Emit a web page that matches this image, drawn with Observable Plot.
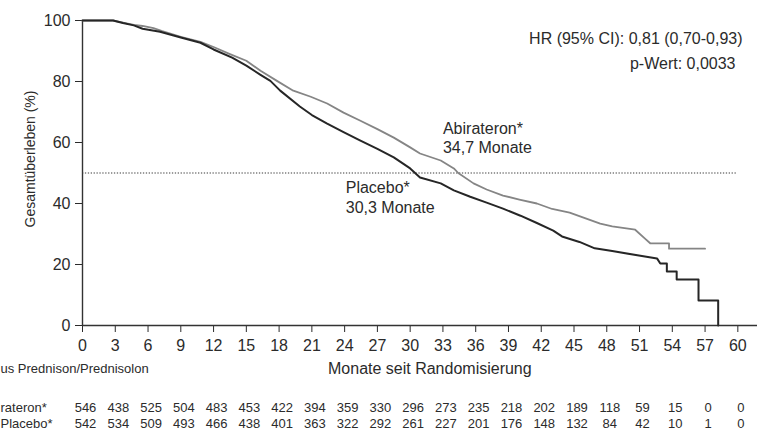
<!DOCTYPE html>
<html>
<head>
<meta charset="utf-8">
<script src="https://cdn.jsdelivr.net/npm/d3@7"></script>
<script src="https://cdn.jsdelivr.net/npm/@observablehq/plot@0.6"></script>
<style>
  html, body { margin: 0; padding: 0; background: #fff; }
  #chart { width: 758px; height: 433px; }
</style>
</head>
<body>
<div id="chart"></div>
<script>
// ---- Data ----
const xTicks = [0, 3, 6, 9, 12, 15, 18, 21, 24, 27, 30, 33, 36, 39, 42, 45, 48, 51, 54, 57, 60];
const yTicks = [0, 20, 40, 60, 80, 100];

// Kaplan-Meier curves (months, survival %)
const placeboMonths = [0, 2.8, 3.7, 4.7, 5.5, 7.1, 9.0, 10.8, 12.0, 13.7, 15.0, 16.3, 17.2, 18.1, 19.9, 21.0, 22.4, 23.9, 25.4, 27.0, 28.5, 30.0, 30.9, 32.8, 34.0, 35.5, 37.0, 38.5, 40.1, 41.6, 43.1, 43.9, 45.5, 46.9, 48.5, 50.8, 52.6, 52.9, 53.5, 53.5, 54.4, 54.4, 56.4, 56.4, 58.2, 58.2];
const placeboSurv   = [100, 100, 99.2, 98.4, 97.3, 96.3, 94.4, 92.7, 90.5, 87.8, 85.2, 82.2, 80.2, 77.0, 71.8, 69.0, 66.2, 63.4, 60.7, 57.9, 55.1, 51.5, 48.5, 46.6, 44.3, 42.2, 40.3, 38.3, 36.0, 33.6, 31.1, 29.2, 27.4, 25.3, 24.4, 23.0, 22.0, 20.3, 20.3, 17.7, 17.7, 15.1, 15.1, 8.2, 8.2, 0];

const abiMonths = [0, 2.8, 3.7, 4.7, 5.5, 6.5, 7.3, 9.0, 10.8, 12.0, 13.5, 15.0, 16.3, 17.8, 19.3, 20.9, 22.4, 23.9, 25.4, 27.0, 28.5, 30.0, 30.9, 32.8, 34.0, 34.4, 35.8, 37.0, 38.5, 40.0, 41.6, 43.0, 44.6, 46.0, 47.4, 48.5, 50.6, 51.5, 52.0, 53.7, 53.7, 57.0];
const abiSurv   = [100, 100, 99.3, 98.6, 98.2, 97.5, 96.5, 94.6, 93.0, 91.3, 89.0, 86.8, 83.5, 80.2, 77.0, 75.0, 72.8, 69.8, 67.2, 64.4, 61.6, 58.4, 56.4, 54.1, 51.5, 50.0, 46.6, 44.6, 42.6, 41.3, 40.0, 38.2, 37.0, 35.2, 33.4, 32.5, 31.4, 28.5, 26.9, 26.9, 25.2, 25.2];

// Numbers at risk
const abiRisk     = [546, 438, 525, 504, 483, 453, 422, 394, 359, 330, 296, 273, 235, 218, 202, 189, 118, 59, 15, 0, 0];
const placeboRisk = [542, 534, 509, 493, 466, 438, 401, 363, 322, 292, 261, 227, 201, 176, 148, 132, 84, 42, 10, 1, 0];

// Reference line (50 % survival)
const medianLine = [{y: 50, x1: 0, x2: 60}];

// Text
const yLabel = "Gesamtüberleben (%)";
const xLabel = "Monate seit Randomisierung";
const hrText = "HR (95% CI): 0,81 (0,70-0,93)";
const pText = "p-Wert: 0,0033";
const abiLabels = [{m: 33.0, s: 64.6, t: "Abirateron*"}, {m: 33.0, s: 58.1, t: "34,7 Monate"}];
const placeboLabels = [{m: 24.1, s: 45.2, t: "Placebo*"}, {m: 24.1, s: 38.6, t: "30,3 Monate"}];
const groupNote = "us Prednison/Prednisolon";
const rowAbi = "rateron*";
const rowPlacebo = "Placebo*";

// ---- Build tables ----
const placebo = placeboMonths.map((m, i) => ({m, s: placeboSurv[i]}));
const abi = abiMonths.map((m, i) => ({m, s: abiSurv[i]}));
const riskRows = xTicks.map((m, i) => ({m, a: abiRisk[i], p: placeboRisk[i]}));

const ink = "#2b2b2b";
const font = "'Liberation Sans', Arial, Helvetica, sans-serif";

const chart = Plot.plot({
  width: 758,
  height: 433,
  marginLeft: 82,
  marginRight: 1,
  marginTop: 20,
  marginBottom: 108,
  style: {fontFamily: font, fontSize: "16px", color: ink, background: "#fff"},
  x: {domain: [0, 61.8]},
  y: {domain: [0, 100]},
  marks: [
    Plot.axisY({ticks: yTicks, tickSize: 7, tickPadding: 5, label: null, fontSize: 16}),
    Plot.axisX({ticks: xTicks, tickSize: 7, tickPadding: 7, label: null, fontSize: 16}),
    Plot.ruleX([0], {stroke: "#333", strokeWidth: 1.4}),
    Plot.ruleY([0], {stroke: "#333", strokeWidth: 1.4}),
    Plot.ruleY(medianLine, {y: "y", x1: "x1", x2: "x2", stroke: "#3a3a3a", strokeWidth: 1.2, strokeDasharray: "1.3,1.6"}),
    Plot.line(abi, {x: "m", y: "s", stroke: "#858585", strokeWidth: 1.8}),
    Plot.line(placebo, {x: "m", y: "s", stroke: "#262626", strokeWidth: 2}),
    Plot.text(abiLabels, {x: "m", y: "s", text: "t", textAnchor: "start", fontSize: 16, fill: ink}),
    Plot.text(placeboLabels, {x: "m", y: "s", text: "t", textAnchor: "start", fontSize: 16, fill: ink}),
    Plot.text([hrText], {frameAnchor: "top-right", dx: -15, dy: 18, textAnchor: "end", lineAnchor: "middle", fontSize: 16, fill: ink}),
    Plot.text([pText], {frameAnchor: "top-right", dx: -22, dy: 43, textAnchor: "end", lineAnchor: "middle", fontSize: 16, fill: ink}),
    Plot.text([yLabel], {frameAnchor: "left", dx: -52, dy: -14, rotate: -90, textAnchor: "middle", lineAnchor: "middle", fontSize: 14, fill: ink}),
    Plot.text([xLabel], {x: 31.8, frameAnchor: "bottom", dy: 43, lineAnchor: "middle", fontSize: 16, fill: ink}),
    Plot.text([groupNote], {frameAnchor: "bottom-left", dx: -82, dy: 43, textAnchor: "start", lineAnchor: "middle", fontSize: 13, fill: ink}),
    Plot.text([rowAbi], {frameAnchor: "bottom-left", dx: -82, dy: 82, textAnchor: "start", lineAnchor: "middle", fontSize: 13, fill: ink}),
    Plot.text([rowPlacebo], {frameAnchor: "bottom-left", dx: -82, dy: 98, textAnchor: "start", lineAnchor: "middle", fontSize: 13, fill: ink}),
    Plot.text(riskRows, {x: "m", text: "a", frameAnchor: "bottom", dy: 82, dx: 3, lineAnchor: "middle", fontSize: 13, fill: ink}),
    Plot.text(riskRows, {x: "m", text: "p", frameAnchor: "bottom", dy: 98, dx: 3, lineAnchor: "middle", fontSize: 13, fill: ink})
  ]
});
document.getElementById("chart").appendChild(chart);
</script>
</body>
</html>
